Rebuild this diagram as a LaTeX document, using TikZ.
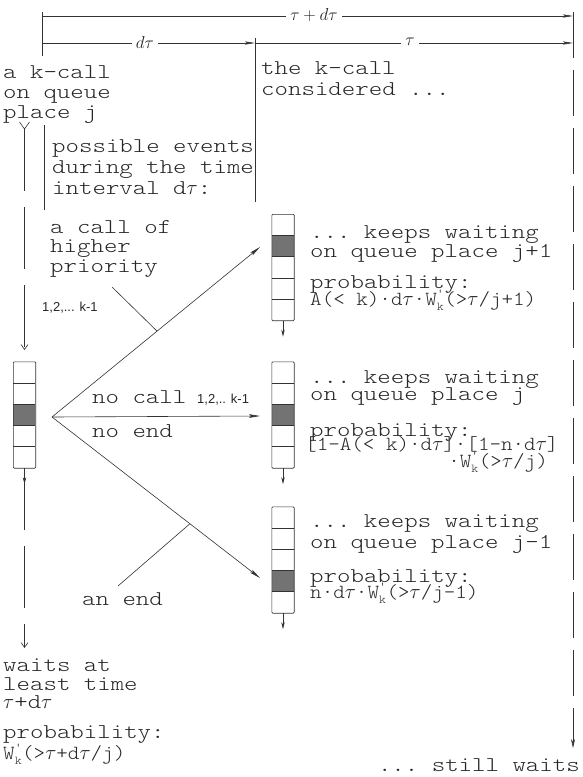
\documentclass[tikz,border=0pt]{standalone}
\usepackage{fontspec}
\setmonofont{lmmonolt10-regular.otf}[FakeStretch=1.22]
\newfontfamily\monof{lmmonolt10-regular.otf}[FakeStretch=1.1]
\newfontfamily\smallsans{Liberation Sans}
\usetikzlibrary{arrows.meta,calc}
\newcommand\mono{\ttfamily\fontsize{21}{20}\selectfont}
\newcommand\monoform{\monof\fontsize{20}{20}\selectfont}
\newcommand\tv{\ensuremath{\tau}}
\newcommand\Wk{W$^{\mbox{\monof\fontsize{12}{12}\selectfont '}}_{\mbox{\monof\fontsize{12}{12}\selectfont k}}$}
\newcommand\qbox[4]{%
  \node[qb] (#1) at (#2,#3) {};
  \fill[qshade] ($(#1.north west)+(0,{21.2*(#4-1)})$) rectangle ++(22,21.2);
  \foreach \i in {1,...,4} {\draw[ln] ($(#1.north west)+(0,21.2*\i)$) -- ++(22,0);}
  \draw[ln,rounded corners=1pt] (#1.north west) rectangle (#1.south east);
  \coordinate (#1out) at ($(#1.south)+(0,16)$);
  \draw[ln,outarr] (#1.south) -- (#1out);
}
\begin{document}
\begin{tikzpicture}[x=1pt,y=-1pt,
  txt/.style={anchor=base west,inner sep=0pt,font=\mono,text=black!85},
  form/.style={anchor=base west,inner sep=0pt,font=\monoform,text=black!85},
  sml/.style={anchor=base west,inner sep=0pt,font=\smallsans\fontsize{13}{13}\selectfont,text=black!85},
  lab/.style={fill=white,inner sep=4pt,font=\fontsize{17}{17}\selectfont,text=black!85},
  ln/.style={line width=0.6pt,draw=black!80},
  dim/.style={-{Stealth[length=10pt,width=3.2pt,inset=2pt]}},
  arr/.style={-{Stealth[length=11pt,width=3.6pt,inset=2pt]}},
  outarr/.style={-{Stealth[length=7pt,width=3.5pt]}},
  barb/.style={-{Straight Barb[length=5pt,width=7pt]}},
  qb/.style={minimum width=22pt,minimum height=106pt,inner sep=0pt},
  qshade/.style={fill=black!55},
  ldash/.style={dash pattern=on 62pt off 16pt},
  rdash/.style={dash pattern=on 46pt off 12pt}]
\useasboundingbox (0,0) rectangle (582,777);

% dimension lines
\coordinate (d0) at (42,16);
\coordinate (d1) at (573,16);
\coordinate (e0) at (42,43);
\coordinate (e1) at (255,43);
\coordinate (e2) at (573,43);
\draw[ln,dim] (d0) -- (d1);
\draw[ln,dim] (e0) -- (e1);
\draw[ln,dim] (e1) -- (e2);
\node[lab] (ltot) at (314,15) {$\tau + d\tau$};
\node[lab] (ldt) at (145,42) {$d\tau$};
\node[lab] (ltau) at (410,42) {$\tau$};

% vertical markers
\coordinate (v0a) at (42,12);
\coordinate (v0b) at (42,56);
\draw[ln] (v0a) -- (v0b);
\coordinate (v1a) at (255,38);
\coordinate (v1b) at (255,202);
\draw[ln] (v1a) -- (v1b);
\coordinate (v2a) at (44,125);
\coordinate (v2b) at (44,210);
\draw[ln] (v2a) -- (v2b);
\coordinate (r0) at (573,12);
\coordinate (r1) at (573,748);
\draw[ln,rdash,-{Stealth[length=9pt,width=4pt]}] (r0) -- (r1);

% texts left top
\node[txt] (t1) at (3,78) {a k-call};
\node[txt] (t2) at (3,98) {on queue};
\node[txt] (t3) at (3,118) {place j};
\node[txt] (c1) at (261,74) {the k-call};
\node[txt] (c2) at (261,95) {considered ...};
\node[txt] (p1) at (52,152) {possible events};
\node[txt] (p2) at (52,173) {during the time};
\node[txt] (p3) at (52,194) {interval d\tv:};
\node[txt] (h1) at (50,233) {a call of};
\node[txt] (h2) at (50,252) {higher};
\node[txt] (h3) at (50,272) {priority};
\node[sml] (h4) at (42,311) {1,2,... k-1};
\node[txt] (n1) at (92,403) {no call};
\node[sml] (n2) at (197,403) {1,2,.. k-1};
\node[txt] (n3) at (92,437) {no end};
\node[txt] (en) at (82,605) {an end};

% left line with queue
\coordinate (Y) at (24.5,129);
\coordinate (Ya) at (19.5,122);
\coordinate (Yb) at (29.5,122);
\draw[ln] (Ya) -- (Y) -- (Yb);
\coordinate (Ltop) at (24.5,350);
\draw[ln,ldash,barb] (Y) -- (Ltop);
\qbox{L}{24.5}{415}{3}
\coordinate (W) at (24.5,648);
\draw[ln,ldash,barb] (L.south) -- (W);

% right queues
\qbox{Ra}{283}{267.5}{2}
\qbox{Rb}{283}{415}{3}
\qbox{Rc}{283}{560}{4}

% branching arrows
\coordinate (F) at (52,417);
\coordinate (up) at (260,247);
\coordinate (mid) at (260,416);
\coordinate (dn) at (260,578);
\draw[ln,arr] (F) -- (up);
\draw[ln,arr] (F) -- (mid);
\draw[ln,arr] (F) -- (dn);
\coordinate (k1a) at (112,287);
\coordinate (k1b) at ($(F)!0.505!(up)$);
\draw[ln] (k1a) -- (k1b);
\coordinate (k2a) at (118,586);
\coordinate (k2b) at ($(F)!0.663!(dn)$);
\draw[ln] (k2a) -- (k2b);

% right texts
\node[txt] (a1) at (310,238) {... keeps waiting};
\node[txt] (a2) at (310,257) {on queue place j+1};
\node[txt] (a3) at (310,288) {probability:};
\node[form] (a4) at (310,305) {A(< k)·d\tv·\Wk(>\tv/j+1)};
\node[txt] (b1) at (310,383) {... keeps waiting};
\node[txt] (b2) at (310,400) {on queue place j};
\node[txt] (b3) at (310,436) {probability:};
\node[form] (b4) at (305,450) {[1-A(< k)·d\tv]·[1-n·d\tv]};
\node[form,anchor=base east] (b5) at (548,467) {·\Wk(>\tv/j)};
\node[txt] (c1r) at (310,527) {... keeps waiting};
\node[txt] (c2r) at (310,548) {on queue place j-1};
\node[txt] (c3r) at (310,582) {probability:};
\node[form] (c4r) at (310,598) {n·d\tv·\Wk(>\tv/j-1)};

% bottom texts
\node[txt] (w1) at (3,671) {waits at};
\node[txt] (w2) at (3,690) {least time};
\node[txt] (w3) at (3,708) {\tv+d\tv};
\node[txt] (w4) at (3,738) {probability:};
\node[form] (w5) at (3,759) {\Wk(>\tv+d\tv/j)};
\node[txt,anchor=base east] (sw) at (580,771) {... still waits};
\end{tikzpicture}
\end{document}
